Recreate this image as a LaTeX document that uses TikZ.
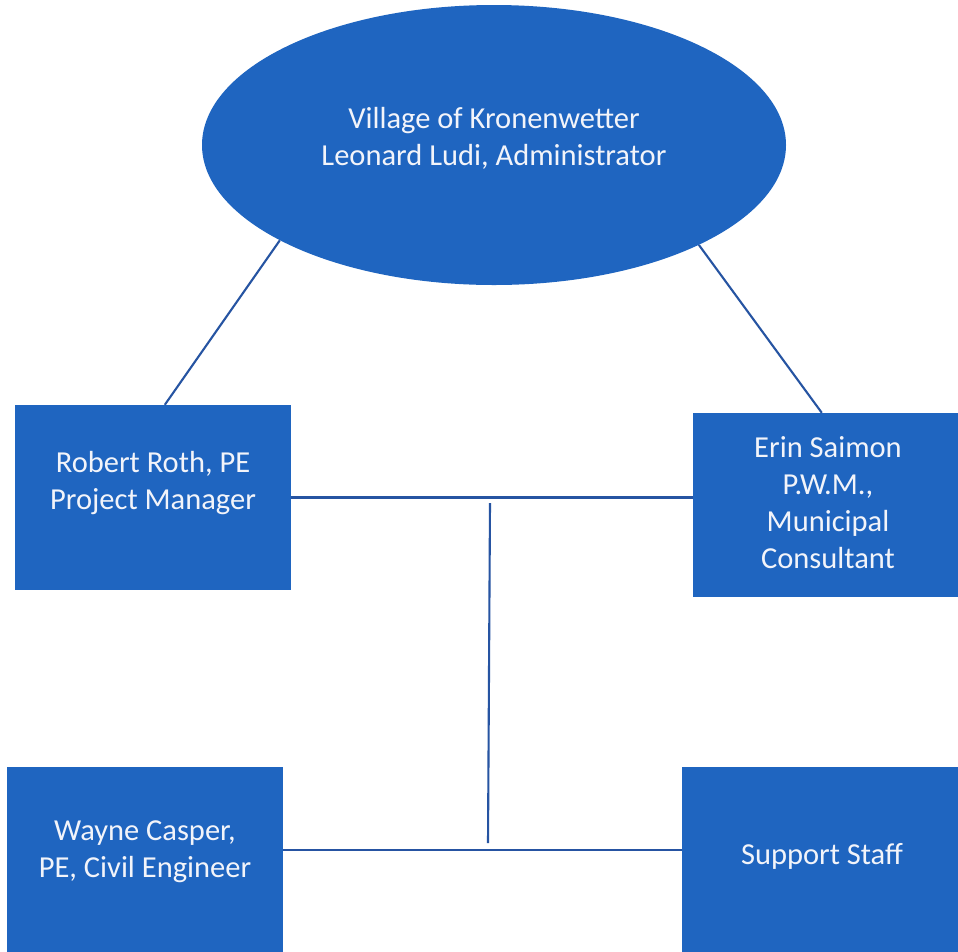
\documentclass[tikz,border=0pt]{standalone}
\usepackage{fontspec}
\setmainfont{Carlito}
\usetikzlibrary{shapes.geometric,calc}
\definecolor{boxblue}{RGB}{31,101,192}
\definecolor{lineblue}{RGB}{38,84,162}
\definecolor{txt}{RGB}{242,244,250}
\newcommand{\boxtext}[3]{\raisebox{#1}[\height][\depth]{\parbox{#2}{\centering #3}}}
\tikzset{
  orgbox/.style={rectangle, fill=boxblue, draw=none, inner sep=0pt, text=txt,
    align=center, font=\fontsize{30.5}{37}\selectfont},
  orgell/.style={ellipse, fill=boxblue, draw=none, inner sep=0pt, text=txt,
    align=center, font=\fontsize{30.5}{37}\selectfont},
  conn/.style={draw=lineblue, line width=2.1pt}
}
\begin{document}
\begin{tikzpicture}[x=1pt,y=-1pt]
\useasboundingbox (0,0) rectangle (958,951);
\fill[white] (0,0) rectangle (958,951);
\clip (0,0) rectangle (958,951);
\node[orgell, minimum width=584pt, minimum height=280pt] (vil) at (494,145)
  {\boxtext{7pt}{400pt}{Village of Kronenwetter\\Leonard Ludi, Administrator}};
\node[orgbox, minimum width=276pt, minimum height=185pt] (rob) at (153,497.5)
  {\boxtext{14pt}{276pt}{Robert Roth, PE\\Project Manager}};
\node[orgbox, minimum width=270pt, minimum height=184pt] (erin) at (828,505)
  {\boxtext{2pt}{270pt}{Erin Saimon\\P.W.M.,\\Municipal\\Consultant}};
\node[orgbox, minimum width=276pt, minimum height=190pt] (way) at (145,862)
  {\boxtext{10pt}{276pt}{Wayne Casper,\\PE, Civil Engineer}};
\node[orgbox, minimum width=280pt, minimum height=190pt] (sup) at (822,862)
  {\boxtext{6pt}{280pt}{Support Staff}};
\coordinate (hb) at (0,850);
\coordinate (vt) at (490,503);
\coordinate (vb) at (488,843);
\draw[conn] (vil.204.4) -- ($(rob.north west)+(150,0)$);
\draw[conn] (vil.334.1) -- ($(erin.north west)+(129,0)$);
\draw[conn] (rob.east) -- (rob.east -| erin.west);
\draw[conn] (way.east |- hb) -- (sup.west |- hb);
\draw[conn] (vt) -- (vb);
\end{tikzpicture}
\end{document}
